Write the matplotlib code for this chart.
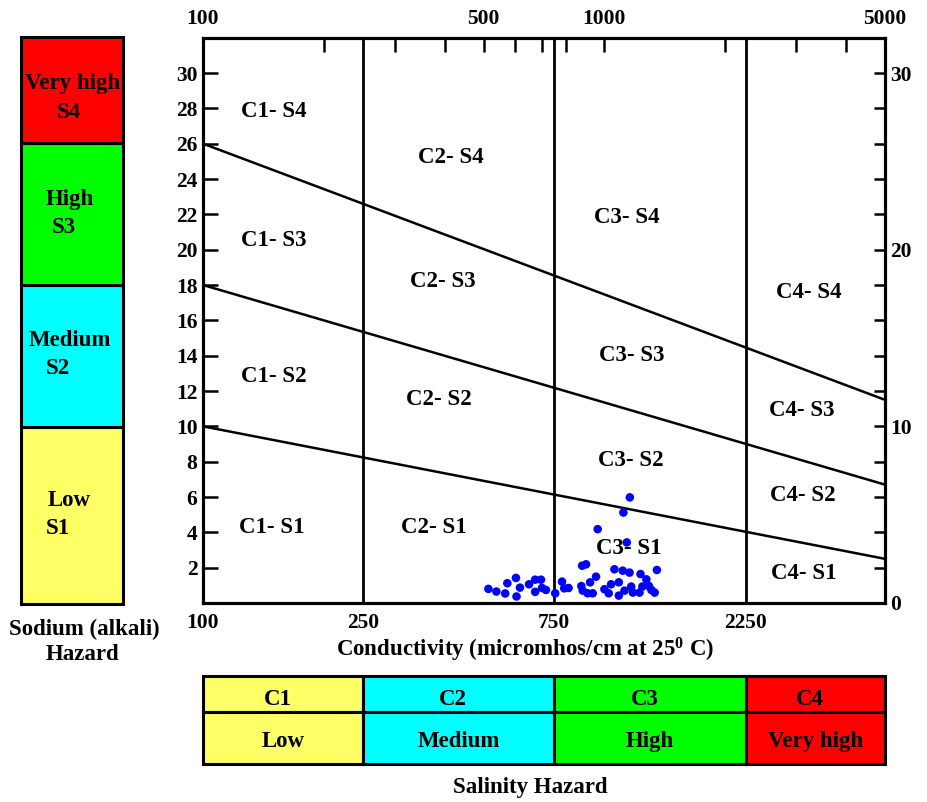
import matplotlib
matplotlib.use("Agg")
import matplotlib.pyplot as plt

plt.rcParams['font.family'] = ['Liberation Serif', 'DejaVu Serif']
plt.rcParams['font.weight'] = 'bold'
plt.rcParams['mathtext.fontset'] = 'custom'
plt.rcParams['mathtext.rm'] = 'Liberation Serif:bold'
plt.rcParams['mathtext.bf'] = 'Liberation Serif:bold'
plt.rcParams['mathtext.it'] = 'Liberation Serif:bold'
plt.rcParams['mathtext.default'] = 'bf'

# Salinity hazard classes (conductivity, micromhos/cm)
salinity_bounds = [100, 250, 750, 2250, 5000]
salinity_classes = ['C1', 'C2', 'C3', 'C4']
salinity_levels = ['Low', 'Medium', 'High', 'Very high']

# Sodium hazard classes (SAR)
sodium_bounds = [0, 10, 18, 26, 32]
sodium_classes = ['S1', 'S2', 'S3', 'S4']
sodium_levels = ['Low', 'Medium', 'High', 'Very high']

hazard_colors = ['#FFFF66', '#00FFFF', '#00FF00', '#FF0000']

# Sodium-hazard boundary lines: SAR at EC = 100 and EC = 5000
boundary_ec = [100, 5000]
boundary_s1_s2 = [10, 2.5]
boundary_s2_s3 = [18, 6.7]
boundary_s3_s4 = [26, 11.5]

# Axis tick values
left_ticks = list(range(2, 31, 2))
right_labels = [0, 10, 20, 30]
top_ticks = [100, 200, 300, 400, 500, 600, 700, 800, 1000, 2000, 3000, 4000, 5000]
top_labels = [100, 500, 1000, 5000]

# Water samples
ec_values = [514, 538, 566, 573, 602, 616, 604, 649, 672, 695, 672, 699, 715,
             754, 784, 794, 814, 880, 900, 876, 883, 908, 935, 921, 953, 1000,
             1025, 1039, 1086, 1059, 1111, 1155, 1086, 1122, 1166, 1177, 1230,
             1243, 1272, 1291, 1309, 1334, 1351, 1223, 1157, 1115, 962, 1137]
sar_values = [0.80, 0.65, 0.54, 1.12, 1.42, 0.87, 0.37, 1.06, 1.32, 1.32, 0.63,
              0.85, 0.74, 0.55, 1.21, 0.83, 0.85, 2.11, 2.19, 0.96, 0.70, 0.55,
              0.55, 1.17, 1.49, 0.78, 0.55, 1.06, 1.17, 1.91, 1.83, 1.72, 0.42,
              0.70, 0.93, 0.59, 1.64, 0.93, 1.34, 0.96, 0.74, 0.59, 1.87, 0.59,
              5.98, 5.12, 4.18, 3.43]

# Zone label anchors (EC, SAR)
zone_pos = {
    ('C1', 'S4'): (150, 27.8), ('C2', 'S4'): (414, 25.2), ('C3', 'S4'): (1135, 21.8), ('C4', 'S4'): (3236, 17.6),
    ('C1', 'S3'): (150, 20.5), ('C2', 'S3'): (396, 18.2), ('C3', 'S3'): (1168, 14.0), ('C4', 'S3'): (3108, 10.9),
    ('C1', 'S2'): (150, 12.8), ('C2', 'S2'): (387, 11.5), ('C3', 'S2'): (1161, 8.05), ('C4', 'S2'): (3126, 6.08),
    ('C1', 'S1'): (148, 4.27), ('C2', 'S1'): (376, 4.27), ('C3', 'S1'): (1148, 3.1), ('C4', 'S1'): (3145, 1.68),
}

W, H = 928, 802
fig = plt.figure(figsize=(W / 100, H / 100), dpi=100)


def rect(x0, y0, x1, y1):
    return [x0 / W, 1 - y1 / H, (x1 - x0) / W, (y1 - y0) / H]


def ftext(x, y, s, **kw):
    fig.text(x / W, 1 - y / H, s, **kw)


FS_TICK = 15.5
FS_LAB = 16.5
LW_SPINE = 2.2

# ---- main diagram ----
ax = fig.add_axes(rect(203, 37.7, 885, 603))
ax.set_xscale('log')
ax.set_xlim(salinity_bounds[0], salinity_bounds[-1])
ax.set_ylim(sodium_bounds[0], sodium_bounds[-1])
for sp in ax.spines.values():
    sp.set_linewidth(LW_SPINE)

ax.set_xticks(salinity_bounds[:-1], [str(v) for v in salinity_bounds[:-1]])
ax.xaxis.set_minor_locator(plt.NullLocator())
ax.tick_params(axis='x', length=0, pad=7, labelsize=FS_TICK)
ax.set_yticks(left_ticks, [str(v) for v in left_ticks])
ax.yaxis.set_minor_locator(plt.NullLocator())
ax.tick_params(axis='y', direction='in', length=11, width=1.8, pad=4, labelsize=FS_TICK)

for b in salinity_bounds[1:-1]:
    ax.plot([b, b], [sodium_bounds[0], sodium_bounds[-1]], color='black', lw=2.0)
for line in (boundary_s1_s2, boundary_s2_s3, boundary_s3_s4):
    ax.plot(boundary_ec, line, color='black', lw=1.8)

ax.scatter(ec_values, sar_values, s=38, color='#0000FF', edgecolors='none', zorder=3)

for (c, s), (xv, yv) in zone_pos.items():
    ax.text(xv, yv, f'{c}- {s}', ha='center', va='center', fontsize=FS_LAB,
            fontweight='bold', zorder=4)

# top conductivity scale
axt = ax.twiny()
axt.set_xscale('log')
axt.set_xlim(salinity_bounds[0], salinity_bounds[-1])
axt.set_xticks(top_ticks, [str(v) if v in top_labels else '' for v in top_ticks])
axt.xaxis.set_minor_locator(plt.NullLocator())
axt.tick_params(axis='x', direction='in', length=10, width=1.8, pad=6, labelsize=FS_TICK)
for sp in axt.spines.values():
    sp.set_linewidth(LW_SPINE)

# right SAR scale
axr = ax.twinx()
axr.set_ylim(sodium_bounds[0], sodium_bounds[-1])
axr.set_yticks(right_labels, [str(v) for v in right_labels])
axr.set_yticks(left_ticks, minor=True)
axr.tick_params(axis='y', which='both', direction='in', length=8, width=1.8, pad=4,
                labelsize=FS_TICK)
for sp in axr.spines.values():
    sp.set_linewidth(LW_SPINE)

ftext(525, 650, r'Conductivity (micromhos/cm at 25$^{0}$ C)', ha='center', va='center',
      fontsize=FS_LAB, fontweight='bold')

# ---- sodium hazard bar ----
axl = fig.add_axes(rect(21, 37, 123, 604))
axl.set_xlim(0, 1)
axl.set_ylim(sodium_bounds[0], sodium_bounds[-1])
axl.bar([0.5] * 4, [sodium_bounds[i + 1] - sodium_bounds[i] for i in range(4)],
        bottom=sodium_bounds[:-1], width=1.0, color=hazard_colors,
        edgecolor='black', linewidth=2.2, clip_on=False)
axl.axis('off')

bar_text_px = [((48, 501), (46, 528)), ((29, 341), (46, 368)),
               ((46, 200), (52, 227)), ((25, 84), (57, 112))]
for i, ((lx, ly), (sx, sy)) in enumerate(bar_text_px):
    ftext(lx, ly, sodium_levels[i], ha='left', va='center', fontsize=FS_LAB, fontweight='bold')
    ftext(sx, sy, sodium_classes[i], ha='left', va='center', fontsize=FS_LAB, fontweight='bold')

ftext(84, 629, 'Sodium (alkali)', ha='center', va='center', fontsize=FS_LAB, fontweight='bold')
ftext(82, 654, 'Hazard', ha='center', va='center', fontsize=FS_LAB, fontweight='bold')

# ---- salinity hazard table ----
axb = fig.add_axes(rect(203, 675.7, 885, 764))
axb.set_xscale('log')
axb.set_xlim(salinity_bounds[0], salinity_bounds[-1])
axb.set_ylim(0, 1)
row_split = 0.586
for i in range(4):
    lo, hi = salinity_bounds[i], salinity_bounds[i + 1]
    axb.bar(lo, 1 - row_split, bottom=row_split, width=hi - lo, align='edge',
            color=hazard_colors[i], edgecolor='black', linewidth=2.2, clip_on=False)
    axb.bar(lo, row_split, bottom=0, width=hi - lo, align='edge',
            color=hazard_colors[i], edgecolor='black', linewidth=2.2, clip_on=False)
    xc = (lo * hi) ** 0.5
    axb.text(xc * 0.97, (1 + row_split) / 2 - 0.06, salinity_classes[i], ha='center',
             va='center', fontsize=FS_LAB, fontweight='bold')
    axb.text(xc, row_split / 2 - 0.04, salinity_levels[i], ha='center', va='center',
             fontsize=FS_LAB, fontweight='bold')
axb.axis('off')

ftext(530, 787, 'Salinity Hazard', ha='center', va='center', fontsize=FS_LAB, fontweight='bold')

fig.savefig('out.png', dpi=100, facecolor='white')
